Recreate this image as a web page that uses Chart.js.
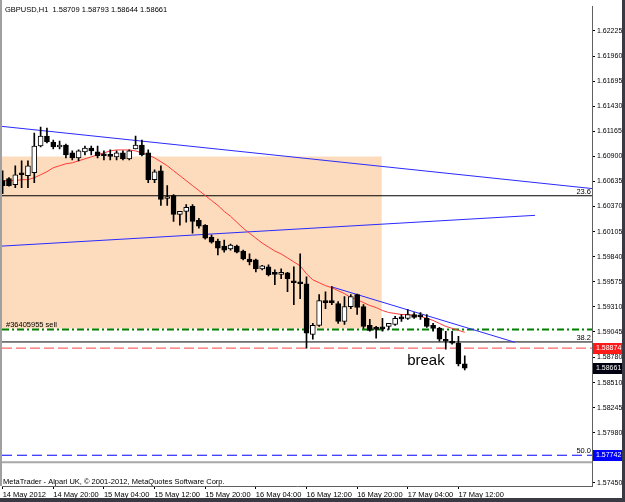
<!DOCTYPE html>
<html>
<head>
<meta charset="utf-8">
<script src="https://cdn.jsdelivr.net/npm/chart.js@4.4.0/dist/chart.umd.min.js"></script>
<style>
  html, body { margin: 0; padding: 0; background: #fff; }
</style>
</head>
<body>
<canvas id="chartGbpusd" width="625" height="502"></canvas>
<script>
// GBPUSD H1, 14 May 12:00 .. 17 May 13:00
const opens = [1.60644, 1.60665, 1.60602, 1.60727, 1.60696, 1.60727, 1.61010, 1.61115, 1.61052, 1.60999,
    1.61020, 1.60937, 1.60884, 1.60947, 1.60989, 1.60947, 1.60916, 1.60916, 1.60895, 1.60937,
    1.60874, 1.60979, 1.61020, 1.60937, 1.60654, 1.60748, 1.60455, 1.60487, 1.60287, 1.60319,
    1.60371, 1.60225, 1.60172, 1.60047, 1.60005, 1.59952, 1.59921, 1.59952, 1.59900, 1.59816,
    1.59806, 1.59711, 1.59732, 1.59659, 1.59654, 1.59670, 1.59586, 1.59565, 1.59554, 1.59020,
    1.59114, 1.59376, 1.59366, 1.59345, 1.59156, 1.59313, 1.59439, 1.59313, 1.59114, 1.59083,
    1.59083, 1.59104, 1.59125, 1.59188, 1.59188, 1.59229, 1.59209, 1.59188, 1.59114, 1.59083,
    1.58968, 1.58947, 1.58926, 1.58709];
const highs = [1.60748, 1.60675, 1.60801, 1.60853, 1.60853, 1.61146, 1.61209, 1.61199, 1.61073, 1.61062,
    1.61030, 1.60958, 1.60968, 1.61010, 1.61010, 1.61010, 1.60958, 1.60968, 1.60958, 1.60958,
    1.60968, 1.61115, 1.61073, 1.60968, 1.60759, 1.60801, 1.60591, 1.60497, 1.60319, 1.60392,
    1.60392, 1.60246, 1.60180, 1.60068, 1.60026, 1.60015, 1.59973, 1.59963, 1.59910, 1.59869,
    1.59816, 1.59750, 1.59753, 1.59701, 1.59711, 1.59675, 1.59732, 1.59869, 1.59627, 1.59135,
    1.59439, 1.59470, 1.59523, 1.59366, 1.59418, 1.59439, 1.59445, 1.59334, 1.59177, 1.59104,
    1.59188, 1.59135, 1.59209, 1.59229, 1.59282, 1.59250, 1.59250, 1.59229, 1.59135, 1.59093,
    1.59052, 1.59052, 1.58999, 1.58793];
const lows = [1.60507, 1.60585, 1.60570, 1.60570, 1.60570, 1.60623, 1.61000, 1.61041, 1.60979, 1.60979,
    1.60884, 1.60863, 1.60853, 1.60916, 1.60916, 1.60884, 1.60863, 1.60863, 1.60863, 1.60863,
    1.60863, 1.60979, 1.60905, 1.60623, 1.60623, 1.60382, 1.60382, 1.60214, 1.60172, 1.60204,
    1.60088, 1.60141, 1.60026, 1.59984, 1.59858, 1.59889, 1.59910, 1.59879, 1.59806, 1.59753,
    1.59680, 1.59701, 1.59638, 1.59544, 1.59607, 1.59470, 1.59334, 1.59397, 1.58873, 1.58968,
    1.59104, 1.59292, 1.59334, 1.59135, 1.59125, 1.59292, 1.59229, 1.59083, 1.59052, 1.58978,
    1.59052, 1.59072, 1.59114, 1.59156, 1.59177, 1.59188, 1.59177, 1.59093, 1.59052, 1.58947,
    1.58863, 1.58915, 1.58685, 1.58644];
const closes = [1.60591, 1.60591, 1.60706, 1.60706, 1.60801, 1.61010, 1.61115, 1.61052, 1.60999, 1.61020,
    1.60916, 1.60884, 1.60958, 1.60989, 1.60958, 1.60905, 1.60905, 1.60900, 1.60937, 1.60874,
    1.60958, 1.61020, 1.60916, 1.60654, 1.60738, 1.60445, 1.60476, 1.60287, 1.60319, 1.60361,
    1.60214, 1.60162, 1.60036, 1.59994, 1.59931, 1.59910, 1.59963, 1.59889, 1.59816, 1.59785,
    1.59711, 1.59743, 1.59649, 1.59654, 1.59664, 1.59607, 1.59565, 1.59554, 1.59031, 1.59114,
    1.59376, 1.59355, 1.59355, 1.59156, 1.59313, 1.59418, 1.59303, 1.59104, 1.59062, 1.59072,
    1.59078, 1.59135, 1.59188, 1.59183, 1.59229, 1.59198, 1.59204, 1.59104, 1.59083, 1.58968,
    1.58947, 1.58926, 1.58706, 1.58661];
// red moving average
const maValues = [1.60644, 1.60644, 1.60644, 1.60654, 1.60654, 1.60675, 1.60706, 1.60738, 1.60780, 1.60801,
    1.60822, 1.60832, 1.60853, 1.60874, 1.60895, 1.60916, 1.60937, 1.60958, 1.60968, 1.60968,
    1.60968, 1.60958, 1.60937, 1.60916, 1.60884, 1.60843, 1.60801, 1.60748, 1.60696, 1.60644,
    1.60591, 1.60539, 1.60487, 1.60434, 1.60382, 1.60319, 1.60267, 1.60204, 1.60141, 1.60088,
    1.60036, 1.59984, 1.59942, 1.59900, 1.59869, 1.59827, 1.59785, 1.59743, 1.59659, 1.59596,
    1.59565, 1.59534, 1.59513, 1.59481, 1.59450, 1.59408, 1.59387, 1.59355, 1.59324, 1.59303,
    1.59271, 1.59250, 1.59240, 1.59229, 1.59229, 1.59219, 1.59209, 1.59188, 1.59167, 1.59135,
    1.59104, 1.59083, 1.59062, 1.59041];

const xTickPos = [0, 8, 16, 24, 32, 40, 48, 56, 64, 72];
const xTickLabels = ['14 May 2012', '14 May 20:00', '15 May 04:00', '15 May 12:00', '15 May 20:00',
    '16 May 04:00', '16 May 12:00', '16 May 20:00', '17 May 04:00', '17 May 12:00'];
const yTicks = [1.62225, 1.61960, 1.61695, 1.61430, 1.61165, 1.60900, 1.60635, 1.60370, 1.60105,
    1.59840, 1.59575, 1.59310, 1.59045, 1.58780, 1.58510, 1.58245, 1.57980, 1.57450];

// objects on the chart (bar index, price)
const rectBox = [-0.1, 59.9, 1.60900, 1.59080];           // x0, x1, top, bottom
const trendUpper = [[-0.1, 1.61217], [93.1, 1.60560]];
const trendLower = [[-0.1, 1.59952], [84.1, 1.60277]];
const trendShort = [[51.9, 1.59523], [80.9, 1.58936]];
const fibLevels = [1.60484, 1.58939, 1.57742];
const fibNames = ['23.6', '38.2', '50.0'];
const sellPrice = 1.59070;
const stopPrice = 1.58874;
const grayLinePrice = 1.57669;
const priceTags = [stopPrice, closes[closes.length - 1], fibLevels[2]];
const priceTagColors = ['#ff1a1a', '#000010', '#0000ff'];

const FONT = '"Liberation Sans", Arial, sans-serif';
const X_MIN = -0.1, X_MAX = 93.1;

function hLine(price, color, width, dash) {
    return {
        type: 'line',
        data: [{x: X_MIN, y: price}, {x: X_MAX, y: price}],
        borderColor: color,
        borderWidth: width,
        borderDash: dash || [],
        pointRadius: 0,
        order: 6
    };
}
function segment(pts, color) {
    return {
        type: 'line',
        data: pts.map(p => ({x: p[0], y: p[1]})),
        borderColor: color,
        borderWidth: 1,
        pointRadius: 0,
        order: 5
    };
}

const overlay = {
    id: 'mtOverlay',
    afterDraw(chart) {
        const {ctx, chartArea: a, scales: {x, y}} = chart;
        ctx.save();
        // left border
        ctx.fillStyle = '#a0a0a0';
        ctx.fillRect(0, 0, 2, a.bottom);
        ctx.textBaseline = 'alphabetic';
        ctx.fillStyle = '#000';
        ctx.font = '7.5px ' + FONT;
        const n = closes.length - 1;
        ctx.textAlign = 'left';
        ctx.fillText('GBPUSD,H1  ' + [opens[n], highs[n], lows[n], closes[n]].map(v => v.toFixed(5)).join(' '), 5, 12);
        ctx.fillText('MetaTrader - Alpari UK, \u00a9 2001-2012, MetaQuotes Software Corp.', 3, 484);
        ctx.fillText('#36405955 sell', 6, y.getPixelForValue(sellPrice) - 3);
        ctx.textAlign = 'right';
        fibLevels.forEach((lv, i) => {
            ctx.fillText(fibNames[i], a.right - 1, y.getPixelForValue(lv) - 2);
        });
        ctx.textAlign = 'left';
        ctx.font = '15px ' + FONT;
        ctx.fillText('break', x.getPixelForValue(63.9), y.getPixelForValue(1.58696));
        // price tags on the axis
        ctx.font = '7px ' + FONT;
        ctx.textBaseline = 'middle';
        priceTags.forEach((p, i) => {
            const py = Math.round(y.getPixelForValue(p));
            ctx.fillStyle = priceTagColors[i];
            ctx.fillRect(a.right + 1, py - 5, 29, 11);
            ctx.fillStyle = '#fff';
            ctx.fillText(p.toFixed(5), a.right + 4, py + 0.5);
        });
        // window frame
        ctx.fillStyle = '#3a3a44';
        ctx.fillRect(0, 498, 625, 4);
        ctx.fillRect(622, 0, 3, 502);
        ctx.restore();
    }
};

const ctx = document.getElementById('chartGbpusd');
new Chart(ctx, {
    type: 'bar',
    data: {
        datasets: [
            {
                type: 'line',
                data: [{x: rectBox[0], y: rectBox[2]}, {x: rectBox[1], y: rectBox[2]}],
                borderWidth: 0,
                pointRadius: 0,
                backgroundColor: '#fcdcbc',
                fill: {value: rectBox[3]},
                order: 10
            },
            hLine(grayLinePrice, '#a8a8a8', 2),
            hLine(fibLevels[0], '#000', 1),
            hLine(fibLevels[1], '#000', 1),
            hLine(fibLevels[2], '#0000ff', 1, [10, 5]),
            hLine(stopPrice, '#ff4040', 1, [10, 4]),
            hLine(sellPrice, '#008000', 2, [7, 3, 2, 3]),
            segment(trendUpper, '#2a2aff'),
            segment(trendLower, '#2a2aff'),
            segment(trendShort, '#2a2aff'),
            {
                type: 'line',
                data: maValues.map((v, i) => ({x: i, y: v})),
                borderColor: '#ff3a3a',
                borderWidth: 1,
                pointRadius: 0,
                tension: 0,
                order: 4
            },
            {
                data: lows.map((l, i) => ({x: i, y: [l, highs[i]]})),
                backgroundColor: '#000',
                barThickness: 1,
                grouped: false,
                order: 3
            },
            {
                data: opens.map((o, i) => ({x: i, y: [o, closes[i]]})),
                backgroundColor: c => closes[c.dataIndex] >= opens[c.dataIndex] ? '#fff' : '#000',
                borderColor: '#000',
                borderWidth: 1,
                borderSkipped: false,
                barThickness: 5,
                minBarLength: 2,
                grouped: false,
                order: 2
            }
        ]
    },
    options: {
        responsive: false,
        animation: false,
        events: [],
        layout: {padding: {left: 2, top: 2, right: 2, bottom: 0}},
        plugins: {legend: {display: false}, tooltip: {enabled: false}},
        scales: {
            x: {
                type: 'linear',
                offset: false,
                min: X_MIN,
                max: X_MAX,
                afterBuildTicks: s => { s.ticks = xTickPos.map(v => ({value: v})); },
                afterFit: s => { s.height = 16; s.paddingLeft = 0; s.paddingRight = 0; },
                ticks: {
                    callback: v => xTickLabels[xTickPos.indexOf(v)] || '',
                    align: 'start',
                    autoSkip: false,
                    maxRotation: 0,
                    padding: 1,
                    color: '#000',
                    font: {family: FONT, size: 7.5}
                },
                grid: {drawOnChartArea: false, tickLength: 3, color: '#000', offset: false},
                border: {color: '#606060'}
            },
            y: {
                type: 'linear',
                position: 'right',
                min: 1.57417,
                max: 1.62487,
                afterBuildTicks: s => { s.ticks = yTicks.map(v => ({value: v})); },
                afterFit: s => { s.width = 31; },
                ticks: {
                    callback: v => v.toFixed(5),
                    autoSkip: false,
                    padding: 2,
                    color: '#000',
                    font: {family: FONT, size: 7}
                },
                grid: {drawOnChartArea: false, tickLength: 3, color: '#000'},
                border: {color: '#606060'}
            }
        }
    },
    plugins: [overlay]
});
</script>
</body>
</html>
